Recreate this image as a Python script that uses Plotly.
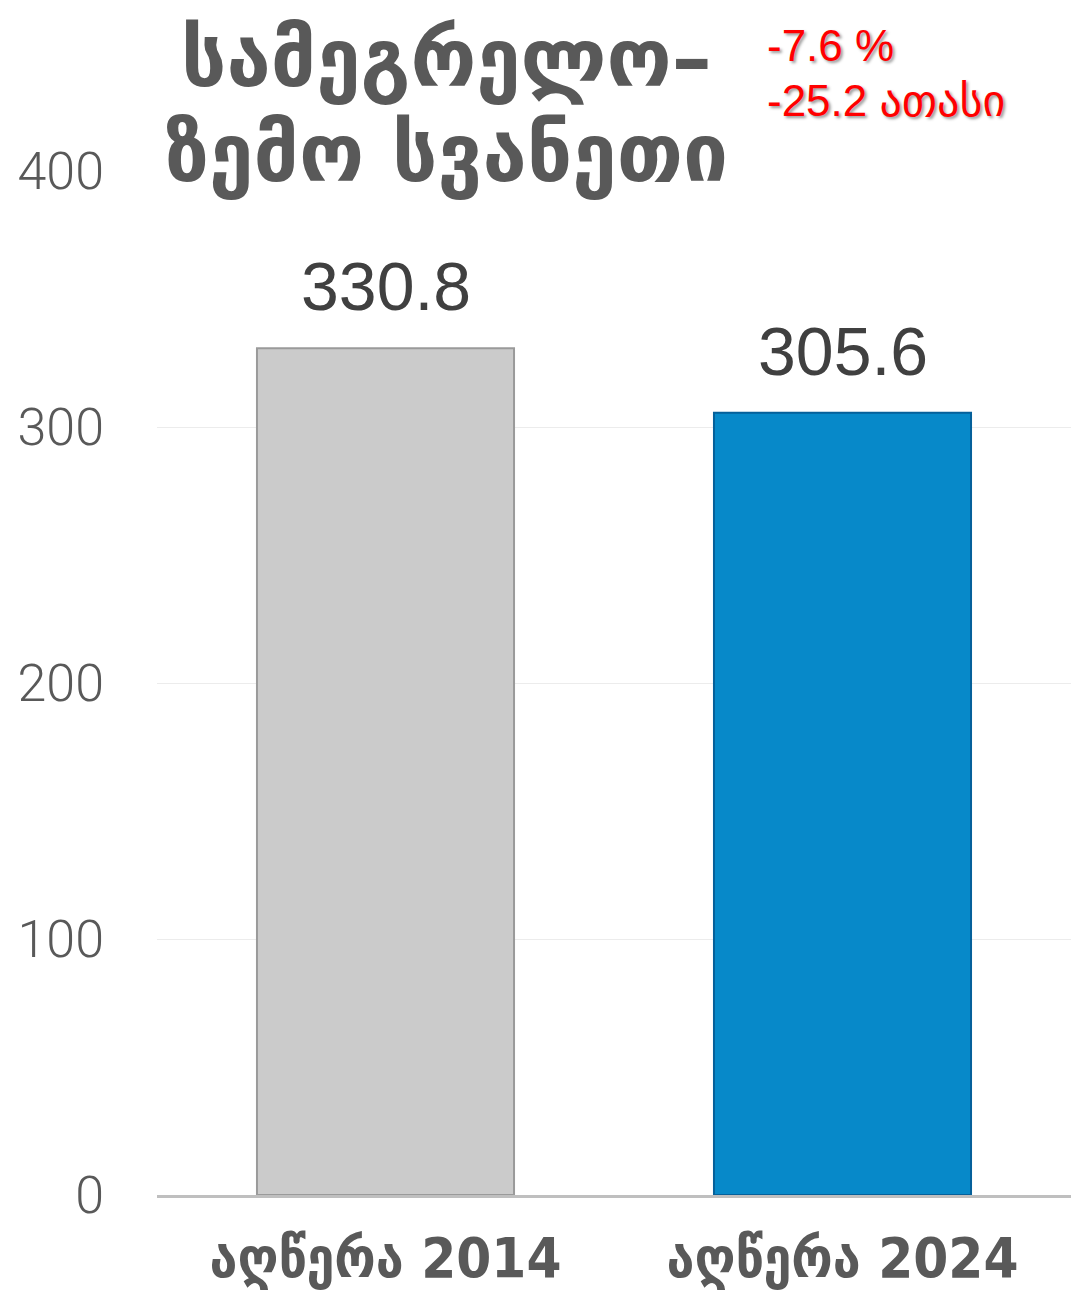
import plotly.graph_objects as go

categories = ["აღწერა 2014", "აღწერა 2024"]
values = [330.8, 305.6]
value_labels = ["330.8", "305.6"]
bar_colors = ["#cbcbcb", "#0789c9"]
line_colors = ["#9a9a9a", "#05609a"]
title_lines = ["სამეგრელო–", "ზემო სვანეთი"]
change_lines = ["-7.6 %", "-25.2 ათასი"]
y_ticks = [0, 100, 200, 300, 400]

fig = go.Figure()
fig.add_trace(go.Bar(
    x=categories, y=values,
    marker=dict(color=bar_colors, line=dict(color=line_colors, width=2)),
    hoverinfo="skip",
))

for c, v, t in zip(categories, values, value_labels):
    fig.add_annotation(x=c, y=v, text=t, showarrow=False, yanchor="bottom", yshift=22,
                       font=dict(family="Liberation Sans, Arial", size=68, color="#404040"))

title_font = dict(family="DejaVu Sans", size=80, color="#595959", weight="bold")
fig.add_annotation(xref="paper", yref="paper", x=0.317, y=1.11, xanchor="center", yanchor="middle",
                   text=title_lines[0], showarrow=False, font=title_font)
fig.add_annotation(xref="paper", yref="paper", x=0.317, y=1.0175, xanchor="center", yanchor="middle",
                   text=title_lines[1], showarrow=False, font=title_font)
red_font = dict(family="Liberation Sans, DejaVu Sans", size=44, color="#ff0000",
                shadow="2px 2px 3px #999")
fig.add_annotation(xref="paper", yref="paper", x=0.665, y=1.1224, xanchor="left", yanchor="middle",
                   text=change_lines[0], showarrow=False, font=red_font)
fig.add_annotation(xref="paper", yref="paper", x=0.665, y=1.069, xanchor="left", yanchor="middle",
                   text=change_lines[1], showarrow=False, font=red_font)

fig.update_layout(
    width=1071, height=1290,
    margin=dict(l=157, r=0, t=171, b=90),
    paper_bgcolor="white", plot_bgcolor="white",
    bargap=0.4375, showlegend=False,
    xaxis=dict(showline=True, linecolor="#bfbfbf", linewidth=3, ticks="", ticklabelstandoff=12,
               tickfont=dict(family="DejaVu Sans Condensed, DejaVu Sans", size=56, color="#595959", weight="bold")),
    yaxis=dict(range=[0, 400], tickvals=y_ticks, showgrid=True, gridcolor="#ececec", gridwidth=1,
               zeroline=False, ticklabelstandoff=52,
               tickfont=dict(family="Roboto", size=52, color="#595959", weight=300)),
)

fig.write_html("out.html", config={"displayModeBar": False},
               post_script="document.body.style.margin='0';")
